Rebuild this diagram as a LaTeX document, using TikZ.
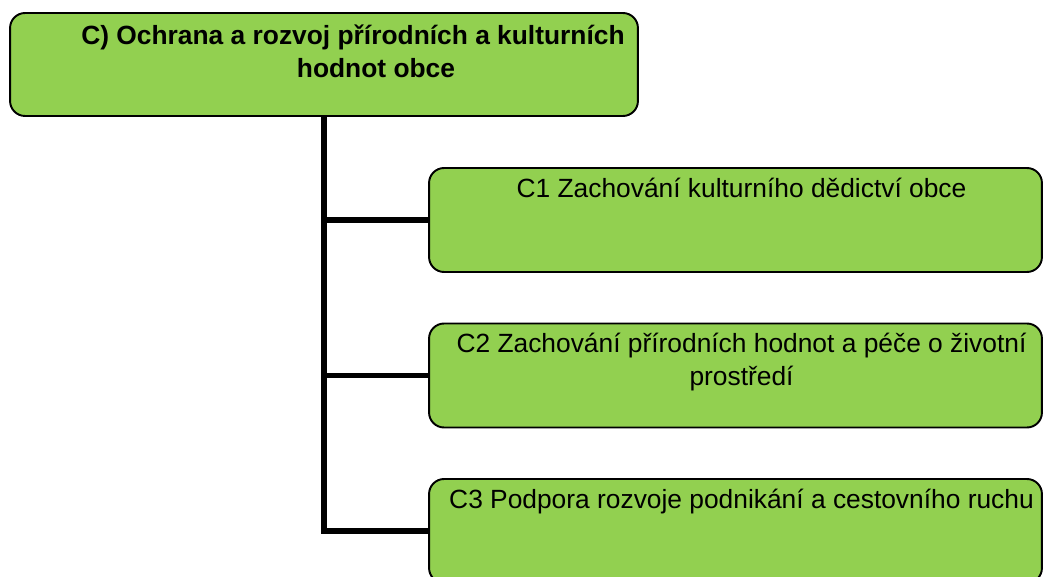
\documentclass[tikz,border=0pt]{standalone}
\usepackage{fontspec}
\setmainfont{Liberation Sans}
\usetikzlibrary{positioning}
\definecolor{leaf}{HTML}{92D050}

\begin{document}
\begin{tikzpicture}[
x=0.02cm,
y=-0.02cm,
goal/.style={
  draw,
  line width=1.1pt,
  fill=leaf,
  rounded corners=0.3cm,
  minimum width=12.56cm,
  minimum height=2.06cm
  },
measure/.style={
  goal,
  minimum width=12.26cm,
  minimum height=2.08cm
  },
boxtext/.style={
  anchor=north,
  inner sep=3pt,
  yshift=-0.1cm,
  align=center,
  font=\fontsize{15}{18.7}\selectfont
  },
trunk/.style={
  line width=3.2pt
  }
]
\useasboundingbox (0,0) rectangle (1044,577);
\clip (0,0) rectangle (1044,577);

\node[goal] (top) at (324,64.5) {};
\node[boxtext, font=\bfseries\fontsize{15}{18.7}\selectfont, xshift=0.58cm, yshift=-0.04cm]
  (toptext) at (top.north) {C) Ochrana a rozvoj přírodních a kulturních\\
  \hspace*{0.92cm}hodnot obce};

\node[measure] (c1) at (735.5,220) {};
\node[measure] (c2) at (735.5,375.5) {};
\node[measure] (c3) at (735.5,531) {};

\node[boxtext, xshift=0.12cm] (c1text) at (c1.north)
  {C1 Zachování kulturního dědictví obce};
\node[boxtext, xshift=0.12cm] (c2text) at (c2.north)
  {C2 Zachování přírodních hodnot a péče o životní\\prostředí};
\node[boxtext, xshift=0.12cm] (c3text) at (c3.north)
  {C3 Podpora rozvoje podnikání a cestovního ruchu};

% spine with branches
\draw[trunk] (top.south) |- (c3.west);
\foreach \b in {c1,c2}
  \draw[trunk] (top.south |- \b.west) -- (\b.west);
\end{tikzpicture}
\end{document}
